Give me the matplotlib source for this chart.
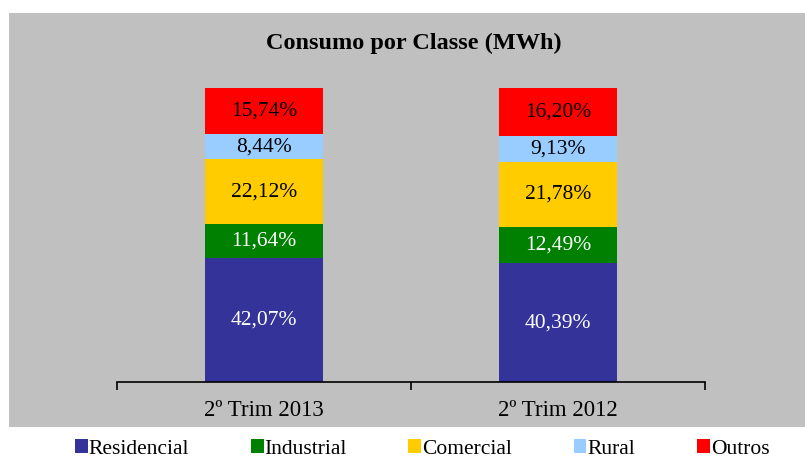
import numpy as np
import matplotlib
matplotlib.use("Agg")
import matplotlib.pyplot as plt
from matplotlib.patches import Rectangle, Patch

# data (percent of consumption)
periodos = ["2º Trim 2013", "2º Trim 2012"]
classes = ["Residencial", "Industrial", "Comercial", "Rural", "Outros"]
residencial = [42.07, 40.39]
industrial = [11.64, 12.49]
comercial = [22.12, 21.78]
rural = [8.44, 9.13]
outros = [15.74, 16.20]

cores = ["#333399", "#008000", "#FFCC00", "#99CCFF", "#FF0000"]
cor_texto = ["white", "white", "black", "black", "black"]

plt.rcParams["font.family"] = ["Liberation Serif", "DejaVu Serif"]

fig = plt.figure(figsize=(8.05, 4.66), dpi=100)
fig.patch.set_facecolor("white")
# grey chart area
fig.patches.append(Rectangle((9/805, 1 - 427/466), 1 - 9/805, (427 - 13)/466,
                             transform=fig.transFigure, facecolor="#C0C0C0",
                             edgecolor="none", zorder=-5))

W, H = 805, 466
ax = fig.add_axes([117/W, 1 - 382/H, (705 - 117)/W, (382 - 88)/H])
ax.set_facecolor("none")
ax.set_zorder(2)

x = np.arange(len(periodos))
series = [residencial, industrial, comercial, rural, outros]
base = np.zeros(len(periodos))
for vals, cor, tc in zip(series, cores, cor_texto):
    vals = np.array(vals)
    ax.bar(x, vals, width=0.4, bottom=base, color=cor, edgecolor="none")
    for xi, b, v in zip(x, base, vals):
        ax.text(xi, b + v/2, f"{v:.2f}%".replace(".", ","), ha="center",
                va="center", color=tc, fontsize=15.5)
    base = base + vals

ax.set_xlim(-0.5, 1.5)
ax.set_ylim(0, 100)
for s in ["top", "right", "left"]:
    ax.spines[s].set_visible(False)
ax.spines["bottom"].set_linewidth(1.2)
ax.set_yticks([])
ax.set_xticks(x)
ax.set_xticklabels(periodos, fontsize=16.5)
ax.tick_params(axis="x", which="major", length=0, pad=13)
ax.set_xticks([-0.5, 0.5, 1.5], minor=True)
ax.tick_params(axis="x", which="minor", length=6, width=1.2, direction="out")

fig.text(0.5 * (265 + 562)/W, 1 - 43/H, "Consumo por Classe (MWh)",
         ha="center", va="center", fontsize=17.5, fontweight="bold")

handles = [Patch(facecolor=c, edgecolor="none") for c in cores]
fig.legend(handles, classes, loc="center", ncol=5,
           bbox_to_anchor=(422/W, 1 - 449/H), frameon=False, fontsize=15.5,
           handlelength=0.6, handleheight=0.6, handletextpad=0.05,
           columnspacing=2.85)

fig.savefig("out.png", dpi=100)
